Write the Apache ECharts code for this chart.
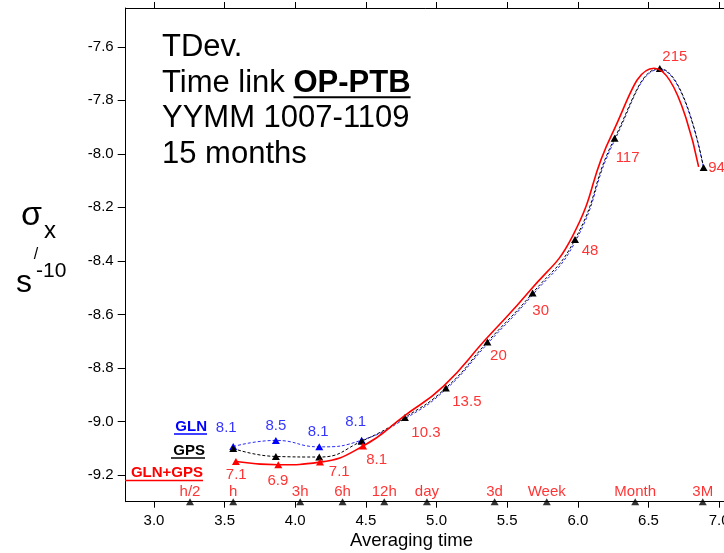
<!DOCTYPE html>
<html><head><meta charset="utf-8">
<script src="https://cdn.jsdelivr.net/npm/echarts@6/dist/echarts.min.js"></script>
<style>html,body{margin:0;padding:0;background:#fff}#c{width:724px;height:553px}</style>
</head><body><div id="c"></div>
<script>
// ---- data ----
const xTicks = [3.0, 3.5, 4.0, 4.5, 5.0, 5.5, 6.0, 6.5, 7.0];
const yTicks = [-7.6, -7.8, -8.0, -8.2, -8.4, -8.6, -8.8, -9.0, -9.2];
const tauX  = [3.561, 3.863, 4.170, 4.470, 4.776, 5.066, 5.360, 5.680, 5.980, 6.260, 6.580, 6.890];
const glnY  = [-9.094, -9.071, -9.095, -9.070, -8.990, -8.880, -8.710, -8.527, -8.330, -7.950, -7.684, -8.054];
const gpsY  = [-9.101, -9.131, -9.133, -9.074, -8.985, -8.875, -8.703, -8.520, -8.320, -7.942, -7.681, -8.051];
const comboX = [3.580, 3.880, 4.175, 4.480, 4.770, 5.050, 5.345, 5.660, 5.960, 6.240, 6.540, 6.855];
const comboY = [-9.150, -9.162, -9.152, -9.092, -8.980, -8.868, -8.695, -8.512, -8.310, -7.928, -7.680, -8.049];
const glnLabels = ['8.1', '8.5', '8.1', '8.1'];
const comboLabels = ['7.1', '6.9', '7.1', '8.1', '10.3', '13.5', '20', '30', '48', '117', '215', '94'];
const scaleNames = ['h/2', 'h', '3h', '6h', '12h', 'day', '3d', 'Week', 'Month', '3M'];
const scaleX = [3.255, 3.561, 4.035, 4.335, 4.630, 4.932, 5.411, 5.780, 6.406, 6.884];
const scaleY = -9.3;

// ---- layout (label offsets in px) ----
const glnLabelOffsets = [[-7, -19], [0, -15], [-1, -15], [-6, -18]];
const comboLabelOffsets = [[3, 26], [2, 24], [20, 15], [15, 19], [21, 15], [21, 14], [11, 14], [8, 18], [15, 11], [13, 20], [15, -12], [13, 0]];

const FONT = '"Liberation Sans", Arial, sans-serif';
const RED = '#ff0000', BLUE = '#0000ff';

// measure text for the underline under "OP-PTB"
const mctx = document.createElement('canvas').getContext('2d');
function textW(t, font) { mctx.font = font; return mctx.measureText(t).width; }
const TITLE_SIZE = 31, TITLE_X = 162, TITLE_Y = 30, TITLE_LH = 35.5;
const ulStart = TITLE_X + textW('Time link ', TITLE_SIZE + 'px ' + FONT);
const ulEnd = ulStart + textW('OP-PTB', 'bold ' + TITLE_SIZE + 'px ' + FONT);
const ulY = TITLE_Y + TITLE_LH * 1.5 + 14;

const chart = echarts.init(document.getElementById('c'), null, {renderer: 'canvas'});
const xAxisCommon = {
  type: 'value', min: 2.8, max: 7.2,
  axisLine: {show: true, onZero: false, lineStyle: {color: '#000', width: 1}},
  axisTick: {show: true, length: 6, customValues: xTicks, lineStyle: {color: '#000'}},
  splitLine: {show: false}
};
const yAxisCommon = {
  type: 'value', min: -9.3, max: -7.455,
  axisLine: {show: true, onZero: false, lineStyle: {color: '#000', width: 1}},
  axisTick: {show: true, length: 8, customValues: yTicks, lineStyle: {color: '#000'}},
  splitLine: {show: false}
};
const option = {
  animation: false,
  backgroundColor: '#fff',
  textStyle: {fontFamily: FONT},
  grid: {left: 125.7, top: 8, width: 621.7, height: 493.7, containLabel: false, outerBoundsMode: 'none'},
  xAxis: [
    Object.assign({}, xAxisCommon, {position: 'bottom',
      axisLabel: {customValues: xTicks, formatter: v => v.toFixed(1), fontSize: 15, color: '#000', margin: 12, fontFamily: FONT}}),
    Object.assign({}, xAxisCommon, {position: 'top', axisLabel: {show: false}})
  ],
  yAxis: [
    Object.assign({}, yAxisCommon, {position: 'left',
      axisLabel: {customValues: yTicks, formatter: v => v.toFixed(1), fontSize: 15, color: '#000', margin: 12, fontFamily: FONT}}),
    Object.assign({}, yAxisCommon, {position: 'right', axisLabel: {show: false}})
  ],
  series: [
    {
      name: 'GLN', type: 'line', smooth: true, z: 2,
      data: tauX.map((x, i) => ({value: [x, glnY[i]], symbol: i < 4 ? 'triangle' : 'none'})),
      symbolSize: [8, 7], itemStyle: {color: BLUE},
      lineStyle: {color: '#2a2aff', width: 1, type: [3, 2]}
    },
    {
      name: 'GPS', type: 'line', smooth: true, z: 3,
      data: tauX.map((x, i) => [x, gpsY[i]]),
      symbol: 'triangle', symbolSize: [8, 7], itemStyle: {color: '#000'},
      lineStyle: {color: '#000', width: 1, type: [3, 2]}
    },
    {
      name: 'GLN+GPS', type: 'line', smooth: true, z: 4,
      data: comboX.map((x, i) => ({value: [x, comboY[i]], symbol: i < 4 ? 'triangle' : 'none'})),
      symbolSize: [8, 7], itemStyle: {color: RED},
      lineStyle: {color: RED, width: 1.6}
    },
    {
      name: 'scale', type: 'scatter', clip: false, z: 5, silent: true,
      data: scaleX.map((x, i) => ({value: [x, scaleY], name: scaleNames[i]})),
      symbol: 'triangle', symbolSize: [8, 7], itemStyle: {color: '#000'},
      label: {show: true, position: 'top', distance: -1, formatter: '{b}', color: RED, fontSize: 15, fontFamily: FONT}
    },
    {
      name: 'glnLabels', type: 'scatter', clip: false, z: 6, silent: true,
      data: glnLabels.map((t, i) => ({value: [tauX[i], glnY[i]], name: t, label: {offset: glnLabelOffsets[i]}})),
      symbolSize: 1, itemStyle: {color: 'rgba(0,0,0,0)'},
      label: {show: true, position: 'inside', formatter: '{b}', color: BLUE, fontSize: 15, fontFamily: FONT}
    },
    {
      name: 'comboLabels', type: 'scatter', clip: false, z: 6, silent: true,
      data: comboLabels.map((t, i) => ({value: [tauX[i], gpsY[i]], name: t, label: {offset: comboLabelOffsets[i]}})),
      symbolSize: 1, itemStyle: {color: 'rgba(0,0,0,0)'},
      label: {show: true, position: 'inside', formatter: '{b}', color: RED, fontSize: 15, fontFamily: FONT}
    }
  ],
  graphic: [
    {type: 'text', x: TITLE_X, y: TITLE_Y, z: 10, style: {
      text: '{n|TDev.}\n{n|Time link }{b|OP-PTB}\n{n|YYMM 1007-1109}\n{n|15 months}',
      rich: {
        n: {fontSize: TITLE_SIZE, lineHeight: TITLE_LH, fontFamily: FONT, fill: '#000'},
        b: {fontSize: TITLE_SIZE, lineHeight: TITLE_LH, fontFamily: FONT, fontWeight: 'bold', fill: '#000'}
      }}},
    {type: 'line', z: 10, shape: {x1: ulStart, y1: ulY, x2: ulEnd, y2: ulY}, style: {stroke: '#000', lineWidth: 2}},
    {type: 'text', x: 207, y: 427, z: 10, style: {text: 'GLN', align: 'right', verticalAlign: 'middle', fontSize: 15, fontWeight: 'bold', fontFamily: FONT, fill: BLUE}},
    {type: 'line', z: 10, shape: {x1: 174, y1: 434, x2: 207, y2: 434}, style: {stroke: BLUE, lineWidth: 1.5}},
    {type: 'text', x: 205, y: 451, z: 10, style: {text: 'GPS', align: 'right', verticalAlign: 'middle', fontSize: 15, fontWeight: 'bold', fontFamily: FONT, fill: '#000'}},
    {type: 'line', z: 10, shape: {x1: 171, y1: 458, x2: 205, y2: 458}, style: {stroke: '#000', lineWidth: 1.5}},
    {type: 'text', x: 203, y: 473, z: 10, style: {text: 'GLN+GPS', align: 'right', verticalAlign: 'middle', fontSize: 15, fontWeight: 'bold', fontFamily: FONT, fill: RED}},
    {type: 'line', z: 10, shape: {x1: 125, y1: 480.5, x2: 203, y2: 480.5}, style: {stroke: RED, lineWidth: 1.5}},
    {type: 'text', x: 411.5, y: 541, z: 10, style: {text: 'Averaging time', align: 'center', verticalAlign: 'middle', fontSize: 18.5, fontFamily: FONT, fill: '#000'}},
    {type: 'text', x: 21, y: 215.5, z: 10, style: {text: 'σ', align: 'left', verticalAlign: 'middle', fontSize: 34, fontFamily: FONT, fill: '#000'}},
    {type: 'text', x: 44, y: 231, z: 10, style: {text: 'x', align: 'left', verticalAlign: 'middle', fontSize: 24, fontFamily: FONT, fill: '#000'}},
    {type: 'text', x: 36, y: 255, z: 10, style: {text: '/', align: 'center', verticalAlign: 'middle', fontSize: 16, fontFamily: FONT, fill: '#000'}},
    {type: 'text', x: 16, y: 283, z: 10, style: {text: 's', align: 'left', verticalAlign: 'middle', fontSize: 32, fontFamily: FONT, fill: '#000'}},
    {type: 'text', x: 36, y: 271, z: 10, style: {text: '-10', align: 'left', verticalAlign: 'middle', fontSize: 21, fontFamily: FONT, fill: '#000'}}
  ]
};
chart.setOption(option);
</script>
</body></html>
